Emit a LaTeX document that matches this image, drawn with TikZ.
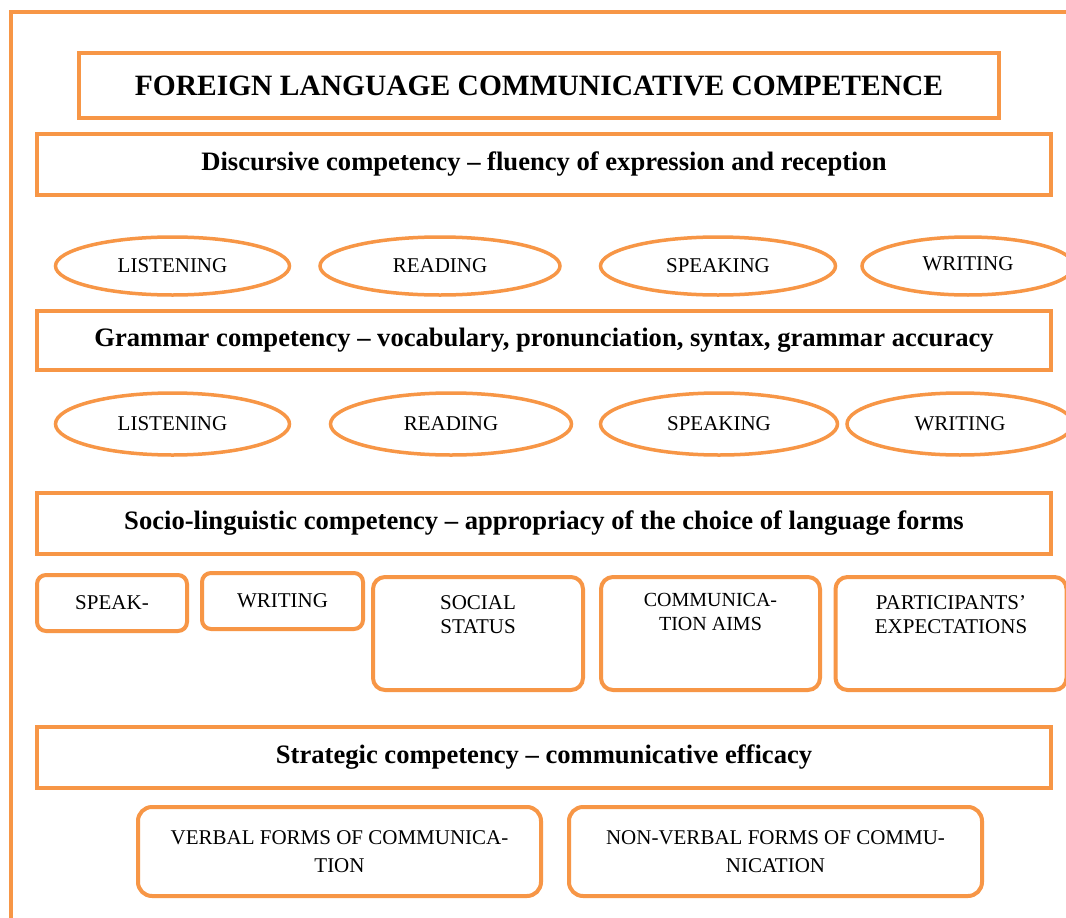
\documentclass[tikz,border=0pt]{standalone}
\usepackage{fontspec}
\setmainfont{Liberation Serif}
\usetikzlibrary{shapes.geometric}
\definecolor{org}{HTML}{F79646}
\tikzset{
  hbox/.style={draw=org, line width=4pt, inner sep=0pt, font=\fontsize{26.6}{30}\selectfont\bfseries},
  ovalbox/.style={draw=org, line width=3.5pt, ellipse, inner sep=0pt, font=\fontsize{21}{24}\selectfont},
  rbox/.style={draw=org, line width=4pt, rounded corners=12pt, inner sep=0pt, font=\fontsize{21}{24}\selectfont, align=center},
  txt/.style={font=\fontsize{21}{24}\selectfont, align=center},
}
\begin{document}
\begin{tikzpicture}[x=1pt,y=-1pt]
\clip (0,0) rectangle (1066,918);
\fill[white] (0,0) rectangle (1066,918);
% outer frame
\draw[org, line width=4pt] (1080,12) -- (11,12) -- (11,940);
% title
\node[hbox, minimum width=920pt, minimum height=65pt, font=\fontsize{29.5}{32}\selectfont\bfseries] (title) at (539,85.5) {FOREIGN LANGUAGE COMMUNICATIVE COMPETENCE};
% discursive
\node[hbox, minimum width=1014pt, minimum height=61pt] (disc) at (544,164.5) {Discursive competency -- fluency of expression and reception};
\node[ovalbox, minimum width=234pt, minimum height=58pt] (l1) at (172.5,266) {LISTENING};
\node[ovalbox, minimum width=240pt, minimum height=58pt] (r1) at (440,266) {READING};
\node[ovalbox, minimum width=235pt, minimum height=58pt] (s1) at (718,266) {SPEAKING};
\node[ovalbox, minimum width=212pt, minimum height=58pt] (w1) at (968,266) {};
\node[txt] at (968,264) {WRITING};
% grammar
\node[hbox, minimum width=1014pt, minimum height=59pt] (gram) at (544,340) {Grammar competency -- vocabulary, pronunciation, syntax, grammar accuracy};
\node[ovalbox, minimum width=234pt, minimum height=62pt] (l2) at (172.5,424) {LISTENING};
\node[ovalbox, minimum width=241pt, minimum height=62pt] (r2) at (451,424) {READING};
\node[ovalbox, minimum width=237pt, minimum height=62pt] (s2) at (719,424) {SPEAKING};
\node[ovalbox, minimum width=226pt, minimum height=62pt] (w2) at (960,424) {};
\node[txt] at (960,424) {WRITING};
% socio-linguistic
\node[hbox, minimum width=1014pt, minimum height=61pt] (soc) at (544,523.5) {Socio-linguistic competency -- appropriacy of the choice of language forms};
\node[rbox, minimum width=150pt, minimum height=56pt, rounded corners=9pt] (sp) at (112,603) {SPEAK-};
\node[rbox, minimum width=161pt, minimum height=56pt, rounded corners=9pt] (wr) at (282.5,601) {WRITING};
\node[rbox, minimum width=210pt, minimum height=113pt, anchor=north] (ss) at (478,575) {};
\node[txt, anchor=north] at (ss.north) [yshift=-17pt] {SOCIAL\\STATUS};
\node[rbox, minimum width=219pt, minimum height=113pt, anchor=north] (ca) at (710.5,575) {};
\node[txt, font=\fontsize{20}{24}\selectfont, anchor=north] at (ca.north) [yshift=-15pt] {COMMUNICA-\\TION AIMS};
\node[rbox, minimum width=231pt, minimum height=113pt, anchor=north] (pe) at (951,575) {};
\node[txt, anchor=north] at (pe.north) [yshift=-17pt] {PARTICIPANTS'\\EXPECTATIONS};
% strategic
\node[hbox, minimum width=1014pt, minimum height=61pt] (str) at (544,757) {Strategic competency -- communicative efficacy};
\node[rbox, minimum width=403pt, minimum height=89pt, rounded corners=14pt] (vb) at (339.5,851.5) {};
\node[txt, font=\fontsize{21}{28}\selectfont] at (vb) {VERBAL FORMS OF COMMUNICA-\\TION};
\node[rbox, minimum width=413pt, minimum height=89pt, rounded corners=14pt] (nv) at (775.5,851.5) {};
\node[txt, font=\fontsize{21}{28}\selectfont] at (nv) {NON-VERBAL FORMS OF COMMU-\\NICATION};
\end{tikzpicture}
\end{document}
